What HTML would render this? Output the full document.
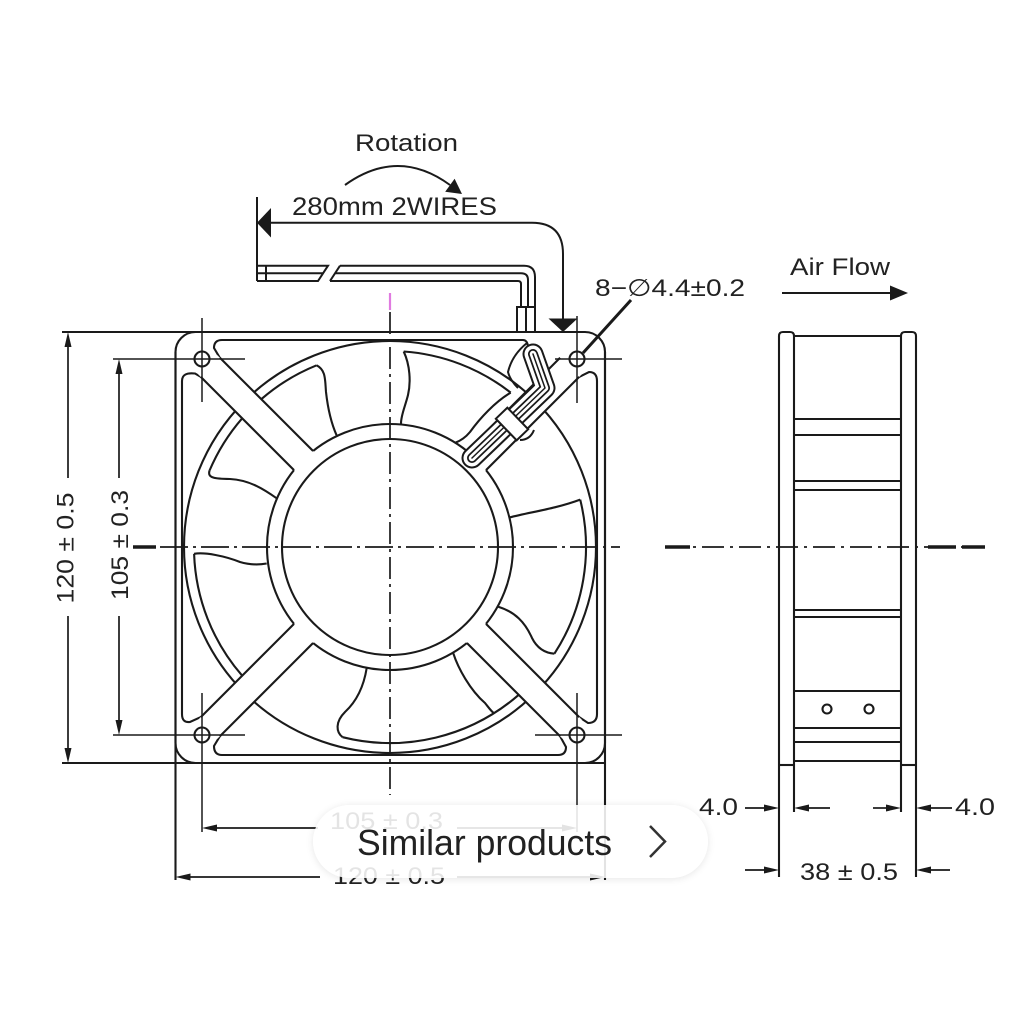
<!DOCTYPE html>
<html><head><meta charset="utf-8">
<style>
html,body{margin:0;padding:0;background:#fff;}
#wrap{position:relative;width:1024px;height:1024px;overflow:hidden;background:#fff;}
svg{position:absolute;left:0;top:0;}
#pill{position:absolute;left:313px;top:805px;width:395px;height:73px;border-radius:37px;background:rgba(255,255,255,0.88);box-shadow:0 1px 8px rgba(0,0,0,0.10);}
#pilltxt{position:absolute;left:0;top:0;}
</style></head>
<body><div id="wrap">
<svg width="1024" height="1024" viewBox="0 0 1024 1024" xmlns="http://www.w3.org/2000/svg">
<g fill="none" stroke="#1a1a1a" stroke-width="2.1" stroke-linecap="butt">
  <rect x="175.5" y="332" width="429.5" height="431" rx="20"/>
  <line x1="62" y1="332" x2="200" y2="332"/>
  <line x1="62" y1="763" x2="605" y2="763"/>
  <line x1="175.5" y1="352" x2="175.5" y2="880"/>
  <line x1="605" y1="352" x2="605" y2="880"/>
  <path d="M219.9,357.9 L214,348 Q214,340 222,340 L523,340 Q527,340 528,346"/>
  <path d="M200.8,376.9 L195,373.5 Q182,372 182,381 L182,714 Q182,723 190,722 L200.8,717.1"/>
  <path d="M219.9,736.2 L214,746 Q214,755 222,755 L558,755 Q566,755 566,747 L560.1,736.2"/>
  <path d="M579.2,717.1 L588,723 Q597,723 597,714 L597,381 Q597,372 589,372 L579.2,376.9"/>
  <circle cx="390" cy="547" r="206"/>
  <circle cx="390" cy="547" r="123"/>
  <circle cx="390" cy="547" r="108"/>
  <path d="M261.4,399.1 A196,196 0 0 1 316.6,365.3"/>
  <path d="M403.7,351.5 A196,196 0 0 1 510.7,392.6"/>
  <path d="M580.2,499.6 A196,196 0 0 1 554.4,653.7"/>
  <path d="M518.6,694.9 A196,196 0 0 1 342.6,737.2"/>
  <path d="M242.1,675.6 A196,196 0 0 1 194.1,553.8"/>
  <path d="M209.6,470.4 A196,196 0 0 1 242.1,418.4"/>
  <path d="M316.6,365.3 C326,370 325,380 326,392 C328,410 332,425 336.7,435.5"/>
  <path d="M403.7,351.5 C410,365 411,382 408,395 C405,407 401,415 401,423.5"/>
  <path d="M510.7,392.6 C495,402 480,418 470,432 C465,438 460,441 455.2,442.7"/>
  <path d="M509.3,517.5 C530,512 555,509 580.2,499.6"/>
  <path d="M498.3,606.7 C515,612 525,622 532,638 C537,648 545,653 554.4,653.7"/>
  <path d="M453.3,653.3 C458,668 470,690 485,703 C489,708 491,711 493.9,713.2"/>
  <path d="M366.7,668 C364,685 358,700 345,712 C335,722 336,732 342.6,737.2"/>
  <path d="M194.1,553.8 C205,552 225,556 240,562 C250,565 258,565 266.7,563.5"/>
  <path d="M209.6,470.4 C207,478 215,479 230,479 C250,480 265,490 276.7,498.3"/>
</g>
<g fill="#fff" stroke="none">
  <polygon points="317.53,455.43 217.12,355.02 198.02,374.12 298.43,474.53"/>
  <polygon points="481.57,474.53 581.98,374.12 562.88,355.02 462.47,455.43"/>
  <polygon points="462.47,638.57 562.88,738.98 581.98,719.88 481.57,619.47"/>
  <polygon points="298.43,619.47 198.02,719.88 217.12,738.98 317.53,638.57"/>
</g>
<g fill="none" stroke="#1a1a1a" stroke-width="2.1">
  <line x1="313.1" y1="451" x2="219.9" y2="357.8"/>
  <line x1="294" y1="470.1" x2="200.8" y2="376.9"/>
  <line x1="486" y1="470.1" x2="579.2" y2="376.9"/>
  <line x1="466.9" y1="451" x2="560.1" y2="357.8"/>
  <line x1="466.9" y1="643" x2="560.1" y2="736.2"/>
  <line x1="486" y1="623.9" x2="579.2" y2="717.1"/>
  <line x1="294" y1="623.9" x2="200.8" y2="717.1"/>
  <line x1="313.1" y1="643" x2="219.9" y2="736.2"/>
  <circle cx="202" cy="359" r="7.5" fill="#fff"/>
  <circle cx="577" cy="359" r="7.5" fill="#fff"/>
  <circle cx="202" cy="735" r="7.5" fill="#fff"/>
  <circle cx="577" cy="735" r="7.5" fill="#fff"/>
</g>
<g fill="none" stroke="#1a1a1a" stroke-width="1.5">
  <line x1="113" y1="359" x2="245" y2="359"/>
  <line x1="202" y1="318" x2="202" y2="402"/>
  <line x1="555" y1="359" x2="622" y2="359"/>
  <line x1="577" y1="316" x2="577" y2="403"/>
  <line x1="113" y1="735" x2="245" y2="735"/>
  <line x1="202" y1="693" x2="202" y2="832"/>
  <line x1="535" y1="735" x2="622" y2="735"/>
  <line x1="577" y1="693" x2="577" y2="832"/>
</g>
<g fill="none" stroke-linecap="round" stroke-linejoin="round">
  <path d="M472,458 L545,388 L533,354" stroke="#1a1a1a" stroke-width="21"/>
  <path d="M472,458 L545,388 L533,354" stroke="#fff" stroke-width="17"/>
  <path d="M472,458 L545,388 L533,354" stroke="#1a1a1a" stroke-width="10"/>
  <path d="M472,458 L545,388 L533,354" stroke="#fff" stroke-width="6.5"/>
  <path d="M472,458 L545,388 L533,354" stroke="#1a1a1a" stroke-width="1.5"/>
</g>
<g fill="#fff" stroke="#1a1a1a" stroke-width="2">
  <rect x="-8" y="-15" width="16" height="30" transform="translate(512,424) rotate(-44)"/>
  <path d="M527,343 Q512,355 508,372 Q510,380 518,388" fill="none"/>
  <path d="M520,440 Q530,440 534,430" fill="none"/>
</g>
<g fill="none" stroke="#1a1a1a" stroke-width="2">
  <path d="M257,265.7 L328,265.7 L318,281 L257,281"/>
  <line x1="257" y1="273.3" x2="323" y2="273.3"/>
  <line x1="266" y1="265.7" x2="266" y2="281"/>
  <path d="M340,265.7 L524,265.7 Q535,265.7 535,277 L535,307"/>
  <path d="M335,273.3 L521,273.3 Q528,273.3 528,280 L528,307"/>
  <path d="M330,281 L340,265.7"/>
  <path d="M330,281 L518,281 Q521,281 521,284 L521,307"/>
  <rect x="517" y="307" width="18" height="25"/>
  <line x1="526" y1="307" x2="526" y2="332"/>
  <line x1="257" y1="197" x2="257" y2="281"/>
  <path d="M257,222.7 L532,222.7 Q563,222.7 563,254 L563,320"/>
  <path d="M345,185 Q398,147 450,185"/>
  <line x1="631" y1="300" x2="583" y2="353" stroke-width="3"/>
  <line x1="782" y1="293" x2="895" y2="293"/>
</g>
<g fill="#1a1a1a" stroke="none">
  <polygon points="257,222.7 271,208 271,237.5"/>
  <polygon points="563,332 548.5,318.5 577.5,318.5"/>
  <polygon points="462,194 445.2,191.7 454.6,178.7"/>
  <polygon points="908,293 890,285.5 890,300.5"/>
</g>
<g fill="none" stroke="#1a1a1a">
  <line x1="160" y1="547" x2="620" y2="547" stroke-width="1.7" stroke-dasharray="28 5 3 5"/>
  <line x1="133" y1="547" x2="156" y2="547" stroke-width="3.5"/>
  <line x1="390" y1="312" x2="390" y2="795" stroke-width="1.7" stroke-dasharray="22 5 3 5"/>
  <line x1="665" y1="547" x2="985" y2="547" stroke-width="1.7" stroke-dasharray="22 6 3 6"/>
  <line x1="665" y1="547" x2="690" y2="547" stroke-width="3.5"/>
  <line x1="928" y1="547" x2="956" y2="547" stroke-width="3.5"/>
  <line x1="962" y1="547" x2="985" y2="547" stroke-width="3.5"/>
</g>
<line x1="390" y1="293" x2="390" y2="310" stroke="#e07be0" stroke-width="2.2"/>
<g fill="none" stroke="#1a1a1a" stroke-width="1.7">
  <line x1="68" y1="340" x2="68" y2="478"/>
  <line x1="68" y1="616" x2="68" y2="755"/>
  <line x1="119" y1="367" x2="119" y2="478"/>
  <line x1="119" y1="616" x2="119" y2="727"/>
  <line x1="210" y1="828" x2="318" y2="828"/>
  <line x1="457" y1="828" x2="569" y2="828"/>
  <line x1="183" y1="877" x2="320" y2="877"/>
  <line x1="457" y1="877" x2="597" y2="877"/>
</g>
<g fill="#1a1a1a">
  <polygon points="68,332 64.5,347 71.5,347"/>
  <polygon points="68,763 64.5,748 71.5,748"/>
  <polygon points="119,359 115.5,374 122.5,374"/>
  <polygon points="119,735 115.5,720 122.5,720"/>
  <polygon points="202,828 217,824.5 217,831.5"/>
  <polygon points="577,828 562,824.5 562,831.5"/>
  <polygon points="175.5,877 190.5,873.5 190.5,880.5"/>
  <polygon points="605,877 590,873.5 590,880.5"/>
</g>
<g fill="none" stroke="#1a1a1a" stroke-width="2.1">
  <path d="M779,877 L779,336 Q779,332 783,332 L790,332 Q794,332 794,336 L794,812"/>
  <path d="M901,812 L901,336 Q901,332 905,332 L912,332 Q916,332 916,336 L916,877"/>
  <line x1="794" y1="336" x2="901" y2="336"/>
  <line x1="779" y1="765" x2="794" y2="765"/>
  <line x1="901" y1="765" x2="916" y2="765"/>
  <line x1="794" y1="419" x2="901" y2="419"/>
  <line x1="794" y1="435" x2="901" y2="435"/>
  <line x1="794" y1="481" x2="901" y2="481"/>
  <line x1="794" y1="490" x2="901" y2="490"/>
  <line x1="794" y1="610" x2="901" y2="610"/>
  <line x1="794" y1="617" x2="901" y2="617"/>
  <line x1="794" y1="691" x2="901" y2="691"/>
  <line x1="794" y1="728" x2="901" y2="728"/>
  <line x1="794" y1="742" x2="901" y2="742"/>
  <line x1="794" y1="761" x2="901" y2="761"/>
  <circle cx="827" cy="709" r="4.5"/>
  <circle cx="869" cy="709" r="4.5"/>
  <line x1="745" y1="808" x2="766" y2="808" stroke-width="1.7"/>
  <line x1="807" y1="808" x2="830" y2="808" stroke-width="1.7"/>
  <line x1="873" y1="808" x2="888" y2="808" stroke-width="1.7"/>
  <line x1="929" y1="808" x2="952" y2="808" stroke-width="1.7"/>
  <line x1="745" y1="870" x2="766" y2="870" stroke-width="1.7"/>
  <line x1="929" y1="870" x2="950" y2="870" stroke-width="1.7"/>
</g>
<g fill="#1a1a1a">
  <polygon points="779,808 764,804.5 764,811.5"/>
  <polygon points="794,808 809,804.5 809,811.5"/>
  <polygon points="901,808 886,804.5 886,811.5"/>
  <polygon points="916,808 931,804.5 931,811.5"/>
  <polygon points="779,870 764,866.5 764,873.5"/>
  <polygon points="916,870 931,866.5 931,873.5"/>
</g>
<g fill="#222" font-family="'Liberation Sans', 'DejaVu Sans', Arial, sans-serif" font-size="24">
  <text x="355" y="151" textLength="103" lengthAdjust="spacingAndGlyphs">Rotation</text>
  <text x="292" y="215" font-size="25" textLength="205" lengthAdjust="spacingAndGlyphs">280mm 2WIRES</text>
  <text x="595" y="296" textLength="150" lengthAdjust="spacingAndGlyphs">8−∅4.4±0.2</text>
  <text x="790" y="275" textLength="100" lengthAdjust="spacingAndGlyphs">Air Flow</text>
  <text transform="translate(73.5,548) rotate(-90)" text-anchor="middle" x="0" y="0" textLength="111" lengthAdjust="spacingAndGlyphs">120 ± 0.5</text>
  <text transform="translate(128,545) rotate(-90)" text-anchor="middle" x="0" y="0" textLength="110" lengthAdjust="spacingAndGlyphs">105 ± 0.3</text>
  <text x="330" y="829" textLength="113" lengthAdjust="spacingAndGlyphs">105 ± 0.3</text>
  <text x="333" y="884" textLength="112" lengthAdjust="spacingAndGlyphs">120 ± 0.5</text>
  <text x="699" y="815" textLength="39" lengthAdjust="spacingAndGlyphs">4.0</text>
  <text x="955" y="815" textLength="40" lengthAdjust="spacingAndGlyphs">4.0</text>
  <text x="800" y="880" textLength="98" lengthAdjust="spacingAndGlyphs">38 ± 0.5</text>
</g>
</svg>
<div id="pill"></div>
<svg id="pilltxt" width="1024" height="1024" viewBox="0 0 1024 1024" xmlns="http://www.w3.org/2000/svg">
  <text x="357" y="855" fill="#222" font-family="'Liberation Sans', Arial, sans-serif" font-size="36" textLength="255" lengthAdjust="spacingAndGlyphs">Similar products</text>
  <polyline points="650,826 665,841.5 650,857" fill="none" stroke="#333" stroke-width="2.5"/>
</svg>
</div></body></html>
